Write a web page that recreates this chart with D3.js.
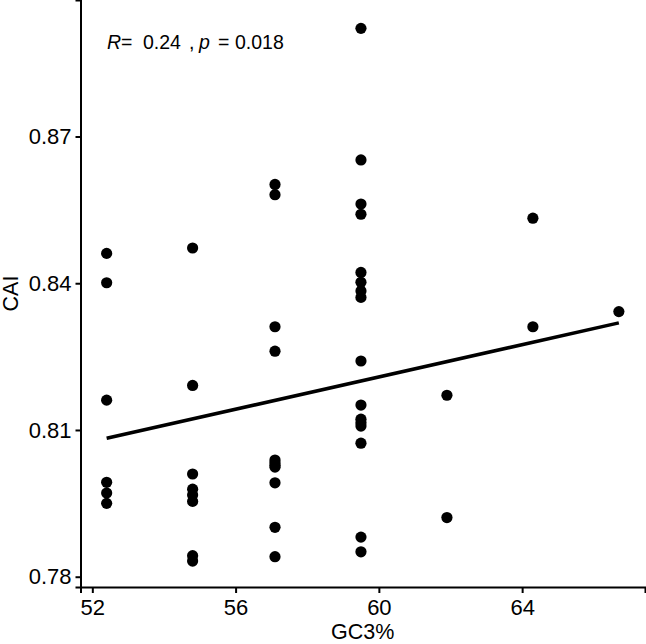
<!DOCTYPE html>
<html>
<head>
<meta charset="utf-8">
<script src="https://cdn.jsdelivr.net/npm/d3@7"></script>
<style>
  html, body { margin: 0; padding: 0; background: #fff; }
  svg { display: block; font-family: "Liberation Sans", Arial, Helvetica, sans-serif; }
</style>
</head>
<body>
<svg id="chart" width="646" height="644"></svg>
<script>
// ---- data ----
const gc3 = [
  52.4, 52.4, 52.4, 52.4, 52.4, 52.4,
  54.8, 54.8, 54.8, 54.8, 54.8, 54.8, 54.8, 54.8,
  57.1, 57.1, 57.1, 57.1, 57.1, 57.1, 57.1, 57.1, 57.1, 57.1, 57.1,
  59.5, 59.5, 59.5, 59.5, 59.5, 59.5, 59.5, 59.5, 59.5, 59.5, 59.5, 59.5, 59.5, 59.5, 59.5, 59.5,
  61.9, 61.9,
  64.3, 64.3,
  66.7
];
const cai = [
  0.8461, 0.8401, 0.8161, 0.7993, 0.7971, 0.7950,
  0.8472, 0.8191, 0.8010, 0.7979, 0.7967, 0.7954, 0.7843, 0.7832,
  0.8602, 0.8581, 0.8311, 0.8261, 0.80385, 0.8033, 0.8028, 0.8024, 0.7992, 0.7901, 0.7841,
  0.8921, 0.8652, 0.8562, 0.8541, 0.8422, 0.8402, 0.8384, 0.8371, 0.8241, 0.8151, 0.8122, 0.8115, 0.8108, 0.8073, 0.7881, 0.7851,
  0.8171, 0.7921,
  0.8533, 0.8311,
  0.8342
];
// regression line as drawn in the reference (end points)
const fitX = [52.4, 66.7];
const fitY = [0.8083, 0.8319];
const xTicks = [52, 56, 60, 64];
const yTicks = [0.78, 0.81, 0.84, 0.87];
const xTitle = "GC3%";
const yTitle = "CAI";
const statR = "0.24";
const statP = "0.018";

// ---- layout ----
const W = 646, H = 644;
const margin = { left: 80.5, right: 1, top: 0, bottom: 57 };
const svg = d3.select("#chart");

const x = d3.scaleLinear().domain([51.67, 67.43]).range([margin.left, W - margin.right]);
const y = d3.scaleLinear().domain([0.7779, 0.8979]).range([H - margin.bottom, margin.top]);

// axes
const xAxis = svg.append("g")
  .attr("transform", `translate(0,${H - margin.bottom})`)
  .call(d3.axisBottom(x).tickValues(xTicks).tickFormat(d3.format("d")).tickSizeOuter(0).tickSize(6).tickPadding(6));
const yAxis = svg.append("g")
  .attr("transform", `translate(${margin.left},0)`)
  .call(d3.axisLeft(y).tickValues(yTicks).tickFormat(d3.format(".2f")).tickSizeOuter(0).tickSize(5).tickPadding(4));

[xAxis, yAxis].forEach(g => {
  g.attr("font-size", 22).attr("font-family", "Liberation Sans, Arial, sans-serif");
  g.select(".domain").attr("stroke", "#000").attr("stroke-width", 2);
  g.selectAll(".tick line").attr("stroke", "#000").attr("stroke-width", 2);
  g.selectAll(".tick text").attr("fill", "#000");
});

// points
svg.append("g").selectAll("circle")
  .data(gc3.map((g, i) => ({ g, c: cai[i] })))
  .join("circle")
  .attr("cx", d => x(d.g))
  .attr("cy", d => y(d.c))
  .attr("r", 5.6)
  .attr("fill", "#000");

// regression line
svg.append("path")
  .datum(fitX.map((v, i) => [v, fitY[i]]))
  .attr("d", d3.line().x(d => x(d[0])).y(d => y(d[1])))
  .attr("fill", "none")
  .attr("stroke", "#000")
  .attr("stroke-width", 3.5);

// axis titles
svg.append("text")
  .attr("x", (margin.left + W - margin.right) / 2)
  .attr("y", 639)
  .attr("text-anchor", "middle")
  .attr("font-size", 21.5)
  .text(xTitle);
svg.append("text")
  .attr("transform", `translate(18,${(margin.top + H - margin.bottom) / 2}) rotate(-90)`)
  .attr("text-anchor", "middle")
  .attr("font-size", 21.5)
  .text(yTitle);

// statistic annotation
const ann = svg.append("text").attr("y", 48.5).attr("font-size", 19.5).attr("fill", "#000");
ann.append("tspan").attr("x", 107).attr("font-style", "italic").text("R");
ann.append("tspan").attr("x", 121).text("=");
ann.append("tspan").attr("x", 143).text(statR);
ann.append("tspan").attr("x", 189).text(",");
ann.append("tspan").attr("x", 199).attr("font-style", "italic").text("p");
ann.append("tspan").attr("x", 218).text("=");
ann.append("tspan").attr("x", 235).text(statP);
</script>
</body>
</html>
